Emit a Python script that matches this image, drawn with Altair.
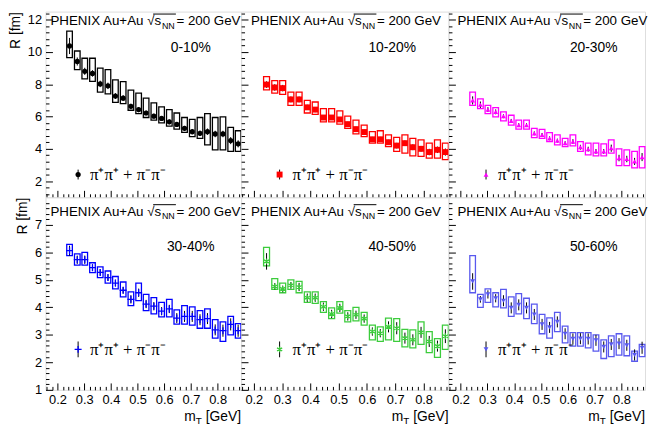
import altair as alt
import pandas as pd

# ---------------- data ----------------
MT = [0.245, 0.274, 0.302, 0.331, 0.360, 0.389, 0.417, 0.446, 0.475, 0.504,
      0.532, 0.561, 0.590, 0.619, 0.647, 0.676, 0.705, 0.734, 0.762, 0.791,
      0.820, 0.849, 0.877]

CENT = ["0-10%", "10-20%", "20-30%", "30-40%", "40-50%", "50-60%"]

R_0_10 = [10.37, 9.41, 8.80, 8.67, 8.02, 7.90, 7.27, 7.14, 6.63, 6.43, 6.22, 6.02,
          5.88, 5.67, 5.51, 5.27, 5.06, 4.96, 5.06, 4.92, 4.92, 4.51, 4.31]
TOP_0_10 = [11.29, 10.06, 9.61, 9.61, 9.00, 8.90, 8.27, 8.16, 7.63, 7.45, 7.14, 6.84,
            6.60, 6.43, 6.22, 5.94, 5.82, 5.94, 6.18, 5.94, 5.98, 5.33, 5.12]
BOT_0_10 = [9.65, 8.90, 8.33, 8.18, 7.51, 7.41, 6.88, 6.80, 6.39, 6.18, 5.94, 5.78,
            5.61, 5.41, 5.22, 5.02, 4.76, 4.65, 4.24, 3.94, 3.94, 3.84, 3.84]
STAT_0_10 = [0.50, 0.25, 0.22, 0.20, 0.20, 0.20, 0.18, 0.18, 0.16, 0.16, 0.15, 0.15,
             0.15, 0.15, 0.15, 0.15, 0.17, 0.17, 0.20, 0.20, 0.20, 0.22, 0.22]

R_10_20 = [7.98, 7.80, 7.76, 7.06, 7.06, 6.57, 6.43, 5.94, 5.94, 5.82, 5.53, 5.22,
           5.04, 4.59, 4.59, 4.41, 4.20, 4.35, 4.10, 4.00, 3.80, 3.94, 3.80]
TOP_10_20 = [8.47, 8.22, 8.22, 7.51, 7.51, 7.00, 6.90, 6.49, 6.49, 6.35, 6.02, 5.78,
             5.47, 5.06, 5.12, 4.86, 4.71, 4.86, 4.65, 4.55, 4.35, 4.55, 4.35]
BOT_10_20 = [7.65, 7.45, 7.37, 6.69, 6.69, 6.22, 6.14, 5.67, 5.67, 5.53, 5.27, 4.92,
             4.76, 4.35, 4.35, 4.14, 3.84, 3.73, 3.57, 3.53, 3.43, 3.43, 3.33]
STAT_10_20 = [0.20, 0.20, 0.20, 0.18, 0.18, 0.16, 0.16, 0.15, 0.15, 0.15, 0.15, 0.15,
              0.15, 0.15, 0.15, 0.15, 0.17, 0.17, 0.18, 0.18, 0.20, 0.20, 0.22]

R_20_30 = [7.00, 6.73, 6.43, 6.29, 6.02, 5.73, 5.47, 5.47, 4.96, 4.86, 4.65, 4.51,
           4.35, 4.45, 4.10, 3.98, 3.84, 3.84, 4.04, 3.43, 3.37, 3.22, 3.49]
TOP_20_30 = [7.51, 7.10, 6.69, 6.55, 6.29, 6.08, 5.78, 5.78, 5.27, 5.20, 5.00, 4.86,
             4.65, 4.86, 4.45, 4.35, 4.35, 4.31, 4.55, 4.00, 3.94, 3.84, 4.14]
BOT_20_30 = [6.69, 6.49, 6.18, 5.98, 5.73, 5.47, 5.22, 5.22, 4.69, 4.65, 4.45, 4.24,
             4.14, 4.18, 3.84, 3.63, 3.57, 3.57, 3.73, 2.96, 2.96, 2.82, 2.82]
STAT_20_30 = [0.25, 0.20, 0.15, 0.15, 0.12, 0.12, 0.12, 0.12, 0.12, 0.12, 0.12, 0.12,
              0.12, 0.15, 0.15, 0.15, 0.15, 0.15, 0.22, 0.20, 0.20, 0.22, 0.25]

R_30_40 = [6.06, 5.73, 5.73, 5.44, 5.27, 5.08, 4.88, 4.62, 4.29, 4.53, 4.12, 4.04,
           3.86, 3.94, 3.61, 3.67, 3.67, 3.55, 3.59, 3.18, 3.15, 3.38, 3.15]
TOP_30_40 = [6.29, 5.94, 6.00, 5.62, 5.47, 5.32, 5.12, 4.92, 4.56, 4.88, 4.47, 4.35,
             4.18, 4.29, 3.91, 4.06, 4.02, 3.88, 3.94, 3.55, 3.47, 3.67, 3.41]
BOT_30_40 = [5.88, 5.53, 5.53, 5.26, 5.08, 4.88, 4.67, 4.38, 4.06, 4.24, 3.88, 3.76,
             3.65, 3.65, 3.39, 3.39, 3.35, 3.24, 3.24, 2.88, 2.76, 3.00, 2.88]
STAT_30_40 = [0.18, 0.15, 0.15, 0.12, 0.12, 0.12, 0.12, 0.12, 0.15, 0.15, 0.15, 0.15,
              0.15, 0.15, 0.18, 0.20, 0.20, 0.20, 0.20, 0.20, 0.22, 0.22, 0.22]

R_40_50 = [5.67, 4.76, 4.67, 4.80, 4.74, 4.35, 4.35, 4.02, 3.76, 3.98, 3.67, 3.73,
           3.59, 3.12, 3.06, 3.29, 3.24, 2.88, 2.82, 3.09, 2.76, 2.59, 2.95]
TOP_40_50 = [6.18, 5.04, 4.88, 5.00, 4.94, 4.56, 4.56, 4.21, 3.98, 4.21, 3.88, 4.00,
             3.82, 3.35, 3.29, 3.61, 3.59, 3.20, 3.18, 3.47, 3.12, 2.86, 3.35]
BOT_40_50 = [5.51, 4.65, 4.53, 4.65, 4.53, 4.18, 4.14, 3.82, 3.59, 3.79, 3.47, 3.51,
             3.35, 2.82, 2.76, 2.82, 2.76, 2.56, 2.53, 2.65, 2.35, 2.18, 2.47]
STAT_40_50 = [0.30, 0.12, 0.12, 0.12, 0.15, 0.15, 0.15, 0.15, 0.15, 0.15, 0.15, 0.15,
              0.15, 0.15, 0.15, 0.20, 0.22, 0.20, 0.20, 0.20, 0.20, 0.20, 0.25]

R_50_60 = [4.94, 4.29, 4.47, 4.33, 4.24, 3.98, 4.09, 3.98, 3.74, 3.38, 3.27, 3.47,
           3.04, 2.85, 2.86, 2.85, 2.80, 2.56, 2.65, 2.68, 2.62, 2.27, 2.53]
TOP_50_60 = [5.88, 4.47, 4.67, 4.53, 4.65, 4.38, 4.50, 4.33, 4.12, 3.74, 3.62, 3.82,
             3.32, 3.08, 3.08, 3.08, 3.00, 2.82, 2.96, 3.04, 2.96, 2.41, 2.65]
BOT_50_60 = [4.53, 4.00, 4.18, 4.02, 3.98, 3.67, 3.76, 3.59, 3.41, 3.04, 2.88, 3.12,
             2.71, 2.59, 2.59, 2.53, 2.41, 2.14, 2.21, 2.26, 2.24, 2.04, 2.21]
STAT_50_60 = [0.30, 0.12, 0.15, 0.15, 0.20, 0.20, 0.20, 0.20, 0.20, 0.20, 0.20, 0.20,
              0.20, 0.20, 0.20, 0.20, 0.20, 0.20, 0.20, 0.20, 0.20, 0.20, 0.22]

R_ALL = [R_0_10, R_10_20, R_20_30, R_30_40, R_40_50, R_50_60]
TOP_ALL = [TOP_0_10, TOP_10_20, TOP_20_30, TOP_30_40, TOP_40_50, TOP_50_60]
BOT_ALL = [BOT_0_10, BOT_10_20, BOT_20_30, BOT_30_40, BOT_40_50, BOT_50_60]
STAT_ALL = [STAT_0_10, STAT_10_20, STAT_20_30, STAT_30_40, STAT_40_50, STAT_50_60]

X_TICKS = [0.2, 0.3, 0.4, 0.5, 0.6, 0.7, 0.8]
Y_TICKS = [[2, 4, 6, 8, 10, 12], [1, 2, 3, 4, 5, 6, 7]]

# ---------------- styling ----------------
COLORS = ["#000000", "#ff0000", "#ff00ff", "#0000ff", "#3ccc3c", "#5858ee"]
SHAPES = ["circle", "square", "triangle-up",
          "M-1,0L1,0M0,-1L0,1",
          "M0,-1L0,1M-0.87,-0.5L0.87,0.5M-0.87,0.5L0.87,-0.5",
          "triangle-down"]
FILLED = [True, True, True, False, False, True]
SIZES = [28, 36, 24, 50, 36, 24]

W = [198, 210, 199]
H = [188, 195]
XDOM = [0.155, 0.888]
YDOM = [[1.0, 12.5], [1.0, 8.0]]
BOX_HW = 0.0105

X_MINOR = [round(0.16 + 0.02 * i, 2) for i in range(37)]
X_MINOR = [v for v in X_MINOR if v not in X_TICKS and v < 0.888]
Y_MINOR = [[round(1.2 + 0.4 * i, 2) for i in range(29)],
           [round(1.2 + 0.2 * i, 2) for i in range(34)]]
Y_MINOR = [[v for v in Y_MINOR[0] if v not in Y_TICKS[0] and v < 12.5],
           [v for v in Y_MINOR[1] if v not in Y_TICKS[1] and v < 8.0]]

FONT = "Liberation Sans"
ONE = pd.DataFrame({"a": [0]})

HDR_X = [5, 10, 9]
HDR_Y = [14, 19]
CENT_X = [51, 57, 52]
CENT_Y = [37, 50]
LEG_MX = [33, 39, 38]
LEG_TX = [45, 52, 50]
LEG_Y = [165, 154]
LEG_BAR = [5, 8]


def txt(text, x, y, size=13.5, align="left", baseline="alphabetic", font=FONT):
    return alt.Chart(ONE).mark_text(
        text=text, fontSize=size, align=align, baseline=baseline, font=font,
        color="black").encode(x=alt.value(x), y=alt.value(y))


def panel(k):
    row, col = divmod(k, 3)
    w, h = W[col], H[row]
    df = pd.DataFrame({"mT": MT, "R": R_ALL[k], "top": TOP_ALL[k],
                       "bot": BOT_ALL[k], "stat": STAT_ALL[k]})
    df["x_lo"] = df["mT"] - BOX_HW
    df["x_hi"] = df["mT"] + BOX_HW
    df["e_lo"] = df["R"] - df["stat"]
    df["e_hi"] = df["R"] + df["stat"]

    xs = alt.Scale(domain=XDOM, nice=False, zero=False)
    ys = alt.Scale(domain=YDOM[row], nice=False, zero=False)
    show_x = row == 1
    show_y = col == 0

    x_major = alt.Axis(orient="bottom", values=X_TICKS, format=".1f", labels=show_x,
                       tickSize=7, offset=-7, domain=False, grid=False, title=None,
                       labelPadding=4, labelFontSize=13, labelFont=FONT,
                       labelFlush=False, labelOverlap=False, tickColor="black",
                       labelColor="black")
    x_minor = alt.Axis(orient="bottom", values=X_MINOR, labels=False, tickSize=3.5,
                       offset=-3.5, domain=False, grid=False, title=None,
                       tickColor="black")
    y_kw = dict(title="R [fm]", titleAnchor="end", titleFontSize=14, titleFont=FONT,
                titleFontWeight="normal", titlePadding=5, titleColor="black") if show_y else dict(title=None)
    y_major = alt.Axis(orient="left", values=Y_TICKS[row], labels=show_y, tickSize=7,
                       offset=-7, domain=False, grid=False, labelPadding=4,
                       labelFontSize=13, labelFont=FONT, labelFlush=False,
                       labelOverlap=False, tickColor="black", labelColor="black", **y_kw)
    y_minor = alt.Axis(orient="left", values=Y_MINOR[row], labels=False, tickSize=3.5,
                       offset=-3.5, domain=False, grid=False, title=None,
                       tickColor="black")

    base = alt.Chart(df)
    boxes = base.mark_rect(fillOpacity=0, stroke=COLORS[k], strokeWidth=1.3).encode(
        x=alt.X("x_lo:Q", scale=xs, axis=x_major), x2="x_hi:Q",
        y=alt.Y("bot:Q", scale=ys, axis=y_major), y2="top:Q")
    errs = base.mark_rule(color="black", strokeWidth=1).encode(
        x=alt.X("mT:Q", scale=xs, axis=x_minor),
        y=alt.Y("e_lo:Q", scale=ys, axis=y_minor), y2="e_hi:Q")
    pts = base.mark_point(shape=SHAPES[k], filled=FILLED[k], size=SIZES[k],
                          color=COLORS[k], opacity=1,
                          strokeWidth=1.3).encode(
        x=alt.X("mT:Q", scale=xs, axis=None),
        y=alt.Y("R:Q", scale=ys, axis=None))

    layers = [boxes, errs, pts]

    # header: PHENIX Au+Au sqrt(s_NN) = 200 GeV
    x0, by = HDR_X[col], HDR_Y[row]
    layers.append(txt("PHENIX Au+Au √s", x0, by))
    layers.append(txt("NN", x0 + 112.8, by + 3.5, size=9))
    layers.append(txt(" = 200 GeV", x0 + 127.5, by))
    layers.append(alt.Chart(ONE).mark_rule(color="black", strokeWidth=1).encode(
        x=alt.value(x0 + 104), x2=alt.value(x0 + 127), y=alt.value(by - 11.5)))

    # centrality label
    layers.append(txt(CENT[k], w - CENT_X[col], CENT_Y[row], size=14,
                      align="center", baseline="middle"))

    # legend entry
    mx, ly = LEG_MX[col], LEG_Y[row]
    layers.append(alt.Chart(ONE).mark_rule(color="black").encode(
        x=alt.value(mx), y=alt.value(ly - LEG_BAR[row]), y2=alt.value(ly + LEG_BAR[row])))
    layers.append(alt.Chart(ONE).mark_point(shape=SHAPES[k], filled=FILLED[k],
                                            size=SIZES[k], color=COLORS[k], opacity=1,
                                            strokeWidth=1.3).encode(
        x=alt.value(mx), y=alt.value(ly)))
    layers.append(txt("π⁺π⁺ + π⁻π⁻", LEG_TX[col], ly + 1, size=17, baseline="middle",
                      font="Liberation Serif"))

    # x-axis title m_T [GeV] on bottom row
    if show_x:
        layers.append(txt("[GeV]", w, h + 32, size=14, align="right"))
        layers.append(txt("T", w - 35.8 - 3.9, h + 35, size=10, align="right"))
        layers.append(txt("m", w - 35.8 - 3.9 - 6.1, h + 32, size=14, align="right"))

    return alt.layer(*layers).properties(width=w, height=h).resolve_axis(
        x="independent", y="independent")


chart = alt.concat(*[panel(k) for k in range(6)], columns=3, spacing=0,
                   bounds="flush", align="each").properties(
    padding=0, background="white"
).configure_view(stroke="black", strokeWidth=1).configure(font=FONT)

chart.save("out.html", embed_options={"renderer": "svg", "actions": False})
